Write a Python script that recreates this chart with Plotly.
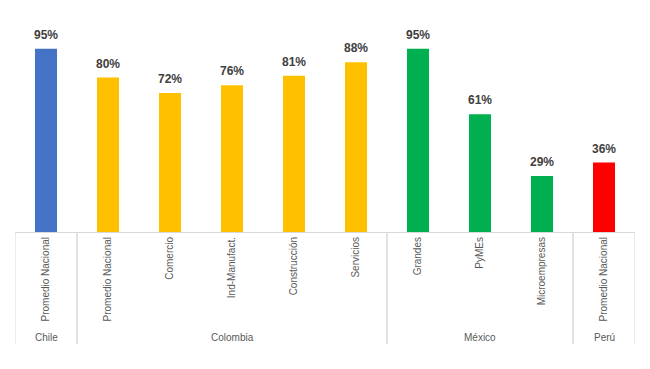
import plotly.graph_objects as go

categories = ["Promedio Nacional", "Promedio Nacional", "Comercio", "Ind-Manufact.",
              "Construcción", "Servicios", "Grandes", "PyMEs", "Microempresas",
              "Promedio Nacional"]
countries = ["Chile", "Colombia", "Colombia", "Colombia", "Colombia", "Colombia",
             "México", "México", "México", "Perú"]
values = [0.95, 0.80, 0.72, 0.76, 0.81, 0.88, 0.95, 0.61, 0.29, 0.36]
country_colors = {"Chile": "#4472C4", "Colombia": "#FFC000", "México": "#00B050", "Perú": "#FF0000"}

xs = list(range(len(categories)))
colors = [country_colors[c] for c in countries]

fig = go.Figure()
fig.add_trace(go.Bar(
    x=xs, y=values, marker=dict(color=colors, line=dict(width=0)),
    width=0.355, hoverinfo="x+y",
))

line_col = "#D9D9D9"
groups = []
start = 0
for i in range(1, len(countries) + 1):
    if i == len(countries) or countries[i] != countries[start]:
        groups.append((countries[start], start, i - 1))
        start = i

shapes = []
annotations = []
bottom = -0.58
for name, a, b in groups:
    for xv in (a - 0.5, b + 0.5):
        shapes.append(dict(type="line", xref="x", yref="paper", x0=xv, x1=xv,
                           y0=0, y1=bottom, line=dict(color=line_col, width=1)))
    annotations.append(dict(x=(a + b) / 2, y=-0.545, xref="x", yref="paper",
                            text=name, showarrow=False, yanchor="middle",
                            font=dict(family="Liberation Sans, Arial", size=10, color="#595959")))

for xv, v in zip(xs, values):
    annotations.append(dict(x=xv, y=v, xref="x", yref="y", text=f"<b>{round(v*100)}%</b>",
                            showarrow=False, yanchor="bottom", yshift=5,
                            font=dict(family="Liberation Sans, Arial", size=12, color="#404040")))

fig.update_layout(
    width=650, height=369,
    margin=dict(l=7, r=23, t=31, b=145),
    paper_bgcolor="white", plot_bgcolor="white",
    showlegend=False,
    shapes=shapes, annotations=annotations,
    xaxis=dict(range=[-0.5, len(categories) - 0.5], tickmode="array", tickvals=xs,
               ticktext=categories, tickangle=-90, showgrid=False, zeroline=False,
               showline=True, linecolor=line_col, linewidth=1, ticks="",
               automargin=False, fixedrange=True,
               tickfont=dict(family="Liberation Sans, Arial", size=10, color="#595959")),
    yaxis=dict(range=[0, 1], visible=False, showgrid=False, zeroline=False,
               automargin=False, fixedrange=True),
)

fig.write_html("out.html")
